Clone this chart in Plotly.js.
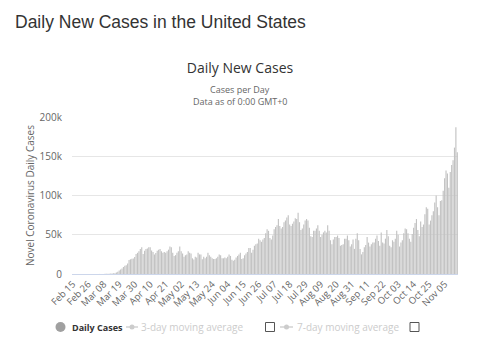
<!DOCTYPE html>
<html>
<head>
<meta charset="utf-8">
<script src="https://cdn.plot.ly/plotly-3.0.1.min.js"></script>
<style>html,body{margin:0;padding:0;background:#fff;}#chart{width:480px;height:343px;}</style>
</head>
<body>
<div id="chart"></div>
<script>
// Daily new cases, United States, Feb 15 – Nov 14, 2020
var startDate = "2020-02-15";
var casesFeb = [0,0,0,0,0,0,1,0,0,18,0,3,3,0,6];
var casesMar = [8,23,22,30,70,80,120,110,190,290,270,450,600,700,900,1100,1800,2900,4600,5600,7000,9000,10500,11300,13400,17700,18700,19500,19600,21500,25500];
var casesApr = [27000,29000,32000,34000,25600,29600,32000,32500,34000,34200,30000,28000,25000,26900,29700,31000,32000,29000,27000,28000,27000,29000,31000,35000,34000,27000,23000,24000,27000,29000];
var casesMay = [35000,29000,26000,22000,24000,25000,29000,27000,26000,20000,18600,22000,21000,27000,25000,25000,18900,22000,20000,22000,27000,24000,22000,20000,19000,19000,20000,22000,25000,24000,20000];
var casesJun = [20000,21000,20000,22000,25000,23000,18000,17000,18000,21000,23000,25000,27000,19000,20000,24000,26000,28000,33000,33000,27000,31000,36000,38000,39000,45000,43000,41000,44000,46000];
var casesJul = [52000,57000,55000,46000,44000,49000,57000,60000,62000,70000,61000,58000,60000,66000,68000,72000,75000,63000,61000,64000,67000,71000,70000,78000,66000,56000,58000,63000,68000,70000,68000];
var casesAug = [59000,48000,47000,55000,55000,58000,62000,55000,47000,50000,53000,55000,53000,62000,55000,43000,38000,44000,47000,47000,49000,46000,36000,37000,38000,45000,45000,49000,43000,35000,38000];
var casesSep = [44000,32000,45000,52000,43000,32000,25000,28000,34000,37000,47000,40000,35000,38000,40000,40000,45000,49000,42000,36000,53000,40000,39000,45000,56000,48000,36000,34000,43000,41000];
var casesOct = [45000,55000,50000,35000,40000,43000,52000,58000,57000,52000,45000,41000,51000,59000,65000,70000,56000,48000,67000,60000,63000,76000,85000,83000,63000,68000,75000,80000,91000,100000,85000];
var casesNov = [75000,93000,94000,106000,122000,132000,128000,110000,130000,139000,145000,161000,187000,155000];
var yTickVals = [0,50000,100000,150000,200000];
var yTickText = ["0","50k","100k","150k","200k"];
var monthNames = ["Jan","Feb","Mar","Apr","May","Jun","Jul","Aug","Sep","Oct","Nov","Dec"];

var cases = [].concat(casesFeb,casesMar,casesApr,casesMay,casesJun,casesJul,casesAug,casesSep,casesOct,casesNov);
var dates = [];
var d0 = new Date(startDate + "T00:00:00Z");
for (var i = 0; i < cases.length; i++) {
  var d = new Date(d0.getTime() + i*86400000);
  var dd = d.getUTCDate();
  dates.push(monthNames[d.getUTCMonth()] + " " + (dd < 10 ? "0" + dd : dd));
}
var xTicks = dates.filter(function(_, i){ return i % 11 === 0; });

// pixel -> paper helpers (plot area x 72..458, y 117..274)
var L = 72, R = 22, T = 117, B = 69, W = 480, H = 343;
var PW = W - L - R, PH = H - T - B;
function px(x){ return (x - L) / PW; }
function py(y){ return (H - B - y) / PH; }

var font = "'Open Sans', 'Noto Sans', sans-serif";

var trace = {
  type: "bar", x: dates, y: cases, name: "Daily Cases",
  marker: {color: "#c2c2c2", line: {width: 0}},
  hoverinfo: "x+y"
};

var ann = [
  {text: "Daily New Cases in the United States", x: px(13), y: py(22), xanchor: "left", yanchor: "middle",
   font: {family: "'Liberation Sans', Arial, sans-serif", size: 17.5, color: "#333"}},
  {text: "Cases per Day", x: px(240), y: py(89.5), xanchor: "center", yanchor: "middle",
   font: {family: font, size: 9, color: "#666"}},
  {text: "Data as of 0:00 GMT+0", x: px(240), y: py(101.5), xanchor: "center", yanchor: "middle",
   font: {family: font, size: 9, color: "#666"}},
  {text: "Novel Coronavirus Daily Cases", x: px(30), y: py(196), xanchor: "center", yanchor: "middle", textangle: -90,
   font: {family: font, size: 10, color: "#666"}},
  {text: "<b>Daily Cases</b>", x: px(70), y: py(327), xanchor: "left", yanchor: "middle",
   font: {family: font, size: 9, color: "#333"}},
  {text: "3-day moving average", x: px(139), y: py(327), xanchor: "left", yanchor: "middle",
   font: {family: font, size: 10, color: "#cccccc"}},
  {text: "7-day moving average", x: px(295), y: py(327), xanchor: "left", yanchor: "middle",
   font: {family: font, size: 10, color: "#cccccc"}}
];
ann.forEach(function(a){ a.xref = "paper"; a.yref = "paper"; a.showarrow = false; });

function circ(cx, cy, r, col){
  return {type: "circle", xref: "paper", yref: "paper", x0: px(cx - r), x1: px(cx + r), y0: py(cy + r), y1: py(cy - r),
          fillcolor: col, line: {width: 0}};
}
function box(x0, y0, s){
  return {type: "rect", xref: "paper", yref: "paper", x0: px(x0), x1: px(x0 + s), y0: py(y0 + s), y1: py(y0),
          fillcolor: "#fff", line: {color: "#555", width: 1}};
}
function hline(x0, x1, y, col){
  return {type: "line", xref: "paper", yref: "paper", x0: px(x0), x1: px(x1), y0: py(y), y1: py(y), line: {color: col, width: 2}};
}
var shapes = [
  circ(60.5, 327, 5, "#a0a0a0"),
  hline(126, 138, 327, "#dddddd"), circ(132, 327, 2.5, "#cccccc"),
  box(265.5, 322.5, 9),
  hline(280, 293, 327, "#dddddd"), circ(286.5, 327, 2.5, "#cccccc"),
  box(410, 322.5, 9)
];

var layout = {
  width: W, height: H,
  margin: {l: L, r: R, t: T, b: B, pad: 0},
  paper_bgcolor: "#fff", plot_bgcolor: "#fff",
  showlegend: false,
  title: {text: "Daily New Cases", x: 0.5, xref: "container", xanchor: "center", y: 1 - 68/H, yref: "container", yanchor: "middle",
          font: {family: font, size: 14, color: "#333"}},
  xaxis: {type: "category", range: [-0.5, cases.length - 0.5], tickmode: "array", tickvals: xTicks, ticktext: xTicks,
          tickangle: -45, tickfont: {family: font, size: 9.5, color: "#666"}, showgrid: false, showline: true,
          linecolor: "#ccd6eb", linewidth: 1, ticks: "", fixedrange: true},
  yaxis: {range: [0, 200000], tickmode: "array", tickvals: yTickVals, ticktext: yTickText, gridcolor: "#e6e6e6",
          zeroline: false, showline: false, ticks: "", tickfont: {family: font, size: 10, color: "#666"},
          ticklabelstandoff: 9, fixedrange: true},
  bargap: 0.2,
  annotations: ann,
  shapes: shapes
};
Plotly.newPlot("chart", [trace], layout, {displayModeBar: false, staticPlot: true});
</script>
</body>
</html>
